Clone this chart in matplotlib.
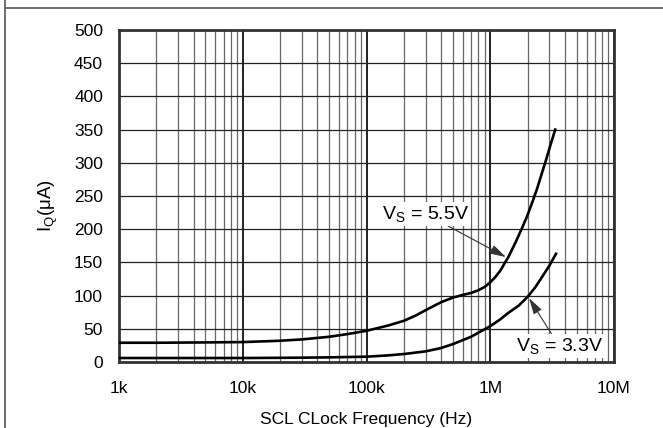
import numpy as np
import matplotlib; matplotlib.use('Agg')
import matplotlib.pyplot as plt
from matplotlib.lines import Line2D
from matplotlib.ticker import FixedLocator, LogLocator, NullFormatter

plt.rcParams['font.family'] = ['Liberation Sans', 'DejaVu Sans']
plt.rcParams['mathtext.default'] = 'regular'

# ---- 数据 ----
f_55 = [1e3, 2e3, 5e3, 1e4, 2e4, 3e4, 5e4, 7e4, 1e5, 1.5e5, 2e5, 2.5e5, 3e5, 4e5, 5e5,
        6e5, 7e5, 8e5, 9e5, 1e6, 1.1e6, 1.2e6, 1.4e6, 1.6e6, 1.8e6, 2e6, 2.2e6,
        2.4e6, 2.6e6, 2.8e6, 3e6, 3.2e6, 3.35e6]
iq_55 = [29, 29, 29.5, 30, 32, 34, 38, 42, 47, 55, 62, 70, 78, 90, 97,
         101, 104, 108, 113, 120, 128, 137, 158, 180, 201, 221, 242,
         262, 283, 302, 321, 338, 350]

f_33 = [1e3, 1e4, 3e4, 5e4, 1e5, 1.5e5, 2e5, 3e5, 4e5, 5e5, 6e5, 7e5, 8e5,
        1e6, 1.2e6, 1.4e6, 1.7e6, 2e6, 2.3e6, 2.6e6, 3e6, 3.4e6]
iq_33 = [6, 6, 6.5, 7, 8, 10, 12, 16, 21, 27, 33, 38, 44,
         54, 64, 74, 85, 98, 112, 127, 145, 163]

xticks = [1e3, 1e4, 1e5, 1e6, 1e7]
xticklabels = ['1k', '10k', '100k', '1M', '10M']
yticks = list(range(0, 501, 50))

# ---- 绘图 ----
fig = plt.figure(figsize=(6.63, 4.28), dpi=100)
ax = fig.add_axes([119/663, 66/428, 495/663, 332/428])

ax.plot(f_55, iq_55, color='black', lw=1.9, zorder=5)
ax.plot(f_33, iq_33, color='black', lw=1.9, zorder=5)

ax.set_xscale('log')
ax.set_xlim(1e3, 1e7)
ax.set_ylim(0, 500)
ax.xaxis.set_major_locator(FixedLocator(xticks))
ax.set_xticklabels(xticklabels)
ax.xaxis.set_minor_locator(LogLocator(base=10, subs=np.arange(2, 10)))
ax.xaxis.set_minor_formatter(NullFormatter())
ax.set_yticks(yticks)

ax.grid(which='major', axis='x', color='#111111', lw=1.3, zorder=1)
ax.grid(which='minor', axis='x', color='#666666', lw=0.9, zorder=1)
ax.grid(which='major', axis='y', color='#222222', lw=0.9, zorder=1)
ax.tick_params(which='both', length=0)
ax.tick_params(axis='y', labelsize=12.5, pad=11.5)
ax.tick_params(axis='x', labelsize=12.5, pad=14)
for s in ax.spines.values():
    s.set_color('#333333'); s.set_linewidth(2)

ax.set_xlabel('SCL CLock Frequency (Hz)', fontsize=12.5)
ax.xaxis.set_label_coords(0.5, -0.15)
ax.set_ylabel('I$_Q$(μA)', fontsize=13.5)
ax.yaxis.set_label_coords(-0.12, 0.47)

arrow = dict(arrowstyle='-|>,head_length=0.7,head_width=0.2', color='#333333',
             lw=0.8, shrinkA=0, shrinkB=0)
box = dict(fc='white', ec='none', pad=1.5)
ax.annotate('V$_S$ = 5.5V', xy=(1.34e6, 158), xytext=(3.0e5, 223),
            ha='center', va='center', fontsize=14, bbox=box,
            arrowprops=arrow, zorder=6)
ax.annotate('V$_S$ = 3.3V', xy=(2.06e6, 96), xytext=(3.6e6, 24),
            ha='center', va='center', fontsize=14, bbox=box,
            arrowprops=arrow, zorder=6)

# ---- 外框线 ----
fig.add_artist(Line2D([4.5/663, 1], [1 - 7.5/428] * 2, transform=fig.transFigure,
                      color='#555555', lw=1.2))
fig.add_artist(Line2D([4.5/663] * 2, [0, 1], transform=fig.transFigure,
                      color='#555555', lw=1.2))

plt.savefig('out.png', dpi=100)
plt.close(); print("OK")
